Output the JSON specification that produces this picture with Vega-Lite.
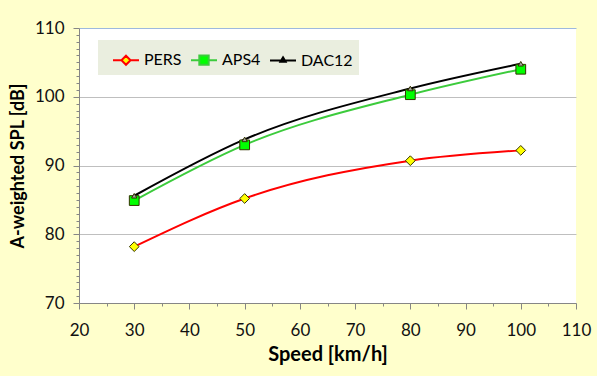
{
  "$schema": "https://vega.github.io/schema/vega-lite/v6.json",
  "width": 497,
  "height": 275,
  "autosize": {"type": "none"},
  "padding": {"left": 79, "top": 28, "right": 21, "bottom": 73},
  "background": "#FFFFCC",
  "config": {"view": {"stroke": null, "fill": "white"}, "font": "Lato"},
  "data": {
    "values": [
      {"series": "PERS", "speed": 30, "spl": 78.2},
      {"series": "PERS", "speed": 50, "spl": 85.2},
      {"series": "PERS", "speed": 80, "spl": 90.7},
      {"series": "PERS", "speed": 100, "spl": 92.2},
      {"series": "APS4", "speed": 30, "spl": 84.9},
      {"series": "APS4", "speed": 50, "spl": 93.0},
      {"series": "APS4", "speed": 80, "spl": 100.3},
      {"series": "APS4", "speed": 100, "spl": 104.0},
      {"series": "DAC12", "speed": 30, "spl": 85.6},
      {"series": "DAC12", "speed": 50, "spl": 93.8},
      {"series": "DAC12", "speed": 80, "spl": 101.2},
      {"series": "DAC12", "speed": 100, "spl": 104.8}
    ]
  },
  "encoding": {
    "x": {
      "field": "speed", "type": "quantitative",
      "scale": {"domain": [20, 110], "nice": false, "zero": false},
      "axis": {
        "values": [20, 25, 30, 35, 40, 45, 50, 55, 60, 65, 70, 75, 80, 85, 90, 95, 100, 105, 110],
        "labelExpr": "datum.value % 10 == 0 ? datum.label : ''",
        "tickSize": {"condition": {"test": "datum.value % 10 == 0", "value": 6}, "value": 3},
        "grid": false,
        "domainColor": "#868686", "tickColor": "#868686",
        "labelFontSize": 17, "labelColor": "#111", "labelPadding": 13,
        "labelFlush": false, "labelOverlap": false,
        "title": "Speed [km/h]", "titleFontSize": 20, "titleFontWeight": "bold",
        "titleColor": "#000", "titlePadding": 6
      }
    },
    "y": {
      "field": "spl", "type": "quantitative",
      "scale": {"domain": [70, 110], "nice": false, "zero": false},
      "axis": {
        "values": [70,71,72,73,74,75,76,77,78,79,80,81,82,83,84,85,86,87,88,89,90,91,92,93,94,95,96,97,98,99,100,101,102,103,104,105,106,107,108,109,110],
        "labelExpr": "datum.value % 10 == 0 ? datum.label : ''",
        "tickSize": {"condition": {"test": "datum.value % 10 == 0", "value": 6}, "value": 3},
        "grid": true,
        "gridOpacity": {"condition": {"test": "datum.value % 10 == 0", "value": 1}, "value": 0},
        "gridColor": {"condition": {"test": "datum.value == 110", "value": "#9DB9DE"}, "value": "#BFBFBF"},
        "domainColor": "#868686", "tickColor": "#868686",
        "labelFontSize": 17, "labelColor": "#111", "labelPadding": 9,
        "labelFlush": false, "labelOverlap": false,
        "title": "A-weighted SPL [dB]", "titleFontSize": 18, "titleFontWeight": "bold",
        "titleColor": "#000", "titlePadding": 7
      }
    }
  },
  "layer": [
    {
      "mark": {"type": "line", "interpolate": "monotone", "strokeWidth": 2},
      "encoding": {
        "color": {
          "field": "series", "type": "nominal",
          "scale": {"domain": ["PERS", "APS4", "DAC12"], "range": ["#FF0000", "#3CCB3C", "#000000"]},
          "legend": {
            "orient": "none", "legendX": 19, "legendY": 12,
            "direction": "horizontal", "title": null,
            "fillColor": "#EAEEDF", "padding": 6,
            "symbolSize": 676, "symbolOffset": 8, "symbolStrokeWidth": 2,
            "labelOffset": 4, "columnPadding": 0,
            "labelFontSize": 16, "labelColor": "#000",
            "encode": {
              "symbols": {
                "update": {
                  "shape": {"signal": "datum.value == 'PERS' ? 'M-1,0H-0.35M0,-0.35L0.35,0L0,0.35L-0.35,0ZM0.35,0H1' : datum.value == 'APS4' ? 'M-1,0H-0.36M-0.36,-0.36H0.36V0.36H-0.36ZM0.36,0H1' : 'M-1,0H1M0,-0.24L0.2,0.1H-0.2Z'"},
                  "fill": {"signal": "datum.value == 'PERS' ? '#FFFF00' : datum.value == 'APS4' ? '#00FF00' : '#999999'"},
                  "fillOpacity": {"value": 1},
                  "opacity": {"value": 1}
                }
              }
            }
          }
        }
      }
    },
    {
      "mark": {"type": "point", "filled": true, "opacity": 1, "stroke": "#333300", "strokeWidth": 1},
      "encoding": {
        "shape": {
          "condition": [
            {"test": "datum.series == 'PERS'", "value": "diamond"},
            {"test": "datum.series == 'APS4'", "value": "square"}
          ],
          "value": "triangle-up"
        },
        "fill": {
          "condition": [
            {"test": "datum.series == 'PERS'", "value": "#FFFF00"},
            {"test": "datum.series == 'APS4'", "value": "#00FF00"}
          ],
          "value": "#A0A0A0"
        },
        "size": {"condition": {"test": "datum.series == 'DAC12'", "value": 28}, "value": 95}
      }
    }
  ]
}
